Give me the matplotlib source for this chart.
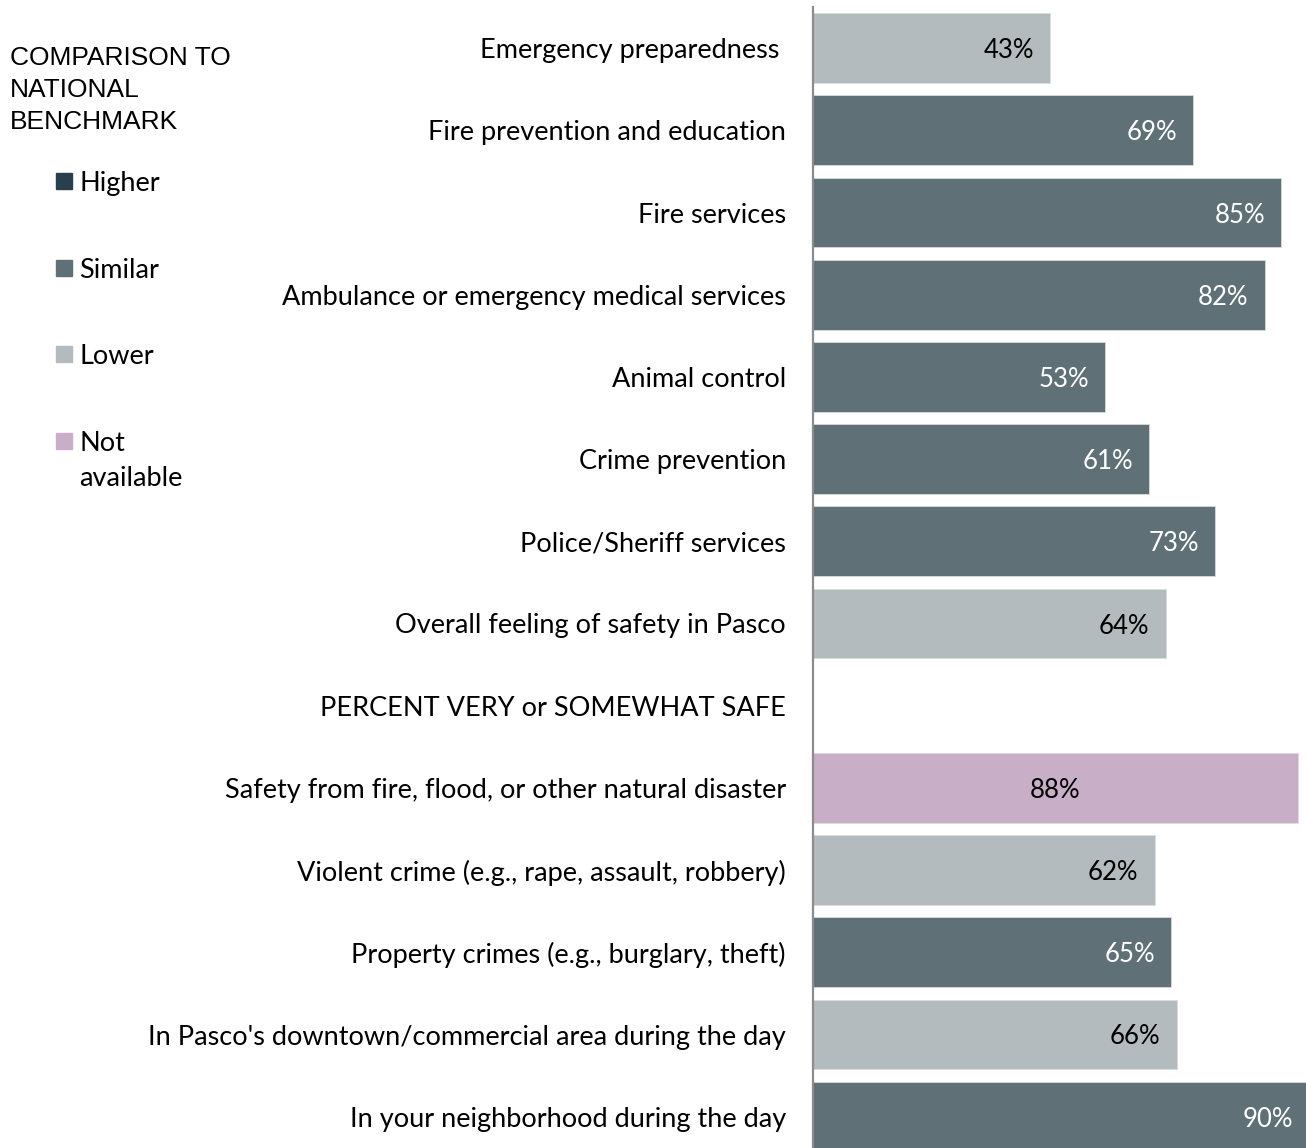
import matplotlib.pyplot as plt
from matplotlib.patches import Rectangle

# Rows from top to bottom; the blank row carries the section heading
labels = [
    "Emergency preparedness ",
    "Fire prevention and education",
    "Fire services",
    "Ambulance or emergency medical services",
    "Animal control",
    "Crime prevention",
    "Police/Sheriff services",
    "Overall feeling of safety in Pasco",
    "PERCENT VERY or SOMEWHAT SAFE",
    "Safety from fire, flood, or other natural disaster",
    "Violent crime (e.g., rape, assault, robbery)",
    "Property crimes (e.g., burglary, theft)",
    "In Pasco's downtown/commercial area during the day",
    "In your neighborhood during the day",
]
values = [43, 69, 85, 82, 53, 61, 73, 64, None, 88, 62, 65, 66, 90]
benchmark = ["Lower", "Similar", "Similar", "Similar", "Similar", "Similar", "Similar",
             "Lower", None, "Not available", "Lower", "Similar", "Lower", "Similar"]

colors = {
    "Higher": "#2a3f4e",
    "Similar": "#5f7177",
    "Lower": "#b4bbbe",
    "Not available": "#c9aec8",
}
text_colors = {"Higher": "white", "Similar": "white", "Lower": "black", "Not available": "black"}

FONT = "Lato"
W, H = 1306, 1148
fig = plt.figure(figsize=(W / 100, H / 100), dpi=100)

# axes placed so the 90% bar runs off the right edge like the original
ax_left = 813 / W
ax_top = 7 / H
row_px = 82.2
ax_h = 14 * row_px / H
ax = fig.add_axes([ax_left, 1 - ax_top - ax_h, (W - 813) / W, ax_h])

for i, (v, b) in enumerate(zip(values, benchmark)):
    if v is None:
        continue
    ax.barh(i, v, height=0.85, color=colors[b], edgecolor="#d8dcdd", linewidth=0.6)
    if b == "Not available":
        ax.text(v / 2, i, f"{v}%", ha="center", va="center_baseline", fontsize=18.5,
                family=FONT, color=text_colors[b])
    else:
        ax.text(v - 2.9, i, f"{v}%", ha="right", va="center_baseline", fontsize=18.5,
                family=FONT, color=text_colors[b])

ax.set_xlim(0, 89.5)
ax.set_ylim(13.5, -0.5)
ax.set_yticks(range(len(labels)))
ax.set_yticklabels(labels, fontsize=19.5, family=FONT)
ax.tick_params(axis="y", length=0, pad=19.5)
ax.set_xticks([])
for s in ["top", "right", "bottom"]:
    ax.spines[s].set_visible(False)
ax.spines["left"].set_color("#8c8c8c")
ax.spines["left"].set_linewidth(1.6)
ax.spines["left"].set_bounds(-0.5, 13.5)

# legend block on the left
title_lines = ["COMPARISON TO", "NATIONAL", "BENCHMARK"]
for k, line in enumerate(title_lines):
    fig.text(10 / W, 1 - (58 + 32 * k) / H, line, fontsize=19,
             family="Liberation Sans", va="center", ha="left")

leg_names = ["Higher", "Similar", "Lower", "Not available"]
leg_y = [181, 268, 354, 441]
for name, y in zip(leg_names, leg_y):
    fig.patches.append(Rectangle((56 / W, 1 - (y + 8) / H), 16 / W, 16 / H,
                                 transform=fig.transFigure, color=colors[name]))
    parts = ["Not", "available"] if name == "Not available" else [name]
    for k, part in enumerate(parts):
        fig.text(79 / W, 1 - (y + 35 * k) / H, part, fontsize=19.5, family=FONT,
                 va="center_baseline", ha="left")

fig.savefig("out.png", dpi=100)
